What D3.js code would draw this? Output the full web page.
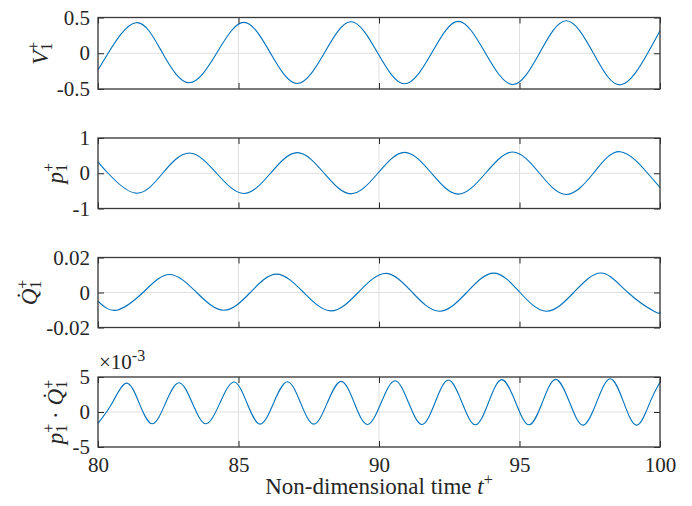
<!DOCTYPE html>
<html>
<head>
<meta charset="utf-8">
<script src="https://cdn.jsdelivr.net/npm/d3@7"></script>
</head>
<body style="margin:0">
<svg id="chart" width="692" height="506" style="font-family:'Liberation Serif','Times New Roman',serif"></svg>
<script>
// values: [time, value]
var v1Data = [[80,-0.235],[80.36,0],[81.35,0.427],[82.30,0],[83.25,-0.413],[84.22,0],[85.19,0.432],
  [86.14,0],[87.09,-0.423],[88.05,0],[89.00,0.441],[89.96,0],[90.91,-0.427],[91.87,0],[92.82,0.446],
  [93.79,0],[94.76,-0.437],[95.71,0],[96.66,0.455],[97.63,0],[98.60,-0.441],[99.56,0],[100,0.315]];

var p1Data = [[80,0.325],[80.36,0],[81.35,-0.565],[82.30,0],[83.25,0.574],[84.22,0],[85.19,-0.574],
  [86.14,0],[87.09,0.584],[88.05,0],[89.00,-0.584],[89.96,0],[90.91,0.593],[91.87,0],[92.82,-0.593],
  [93.79,0],[94.76,0.603],[95.71,0],[96.66,-0.603],[97.63,0],[98.58,0.612],[99.56,0],[100,-0.40]];

var q1Data = [[80,-0.0050],[80.66,-0.0101],[81.60,0],[82.54,0.0103],[83.51,0],[84.48,-0.0101],
  [85.42,0],[86.35,0.0105],[87.32,0],[88.29,-0.0105],[89.26,0],[90.23,0.0109],[91.19,0],
  [92.15,-0.0107],[93.12,0],[94.08,0.0111],[95.02,0],[95.96,-0.0107],[96.93,0],[97.90,0.0111],
  [98.86,0],[99.82,-0.0110],[100,-0.0109]];

// p1 * Q1, in units of 1e-3
var pqData = [[80,-1.62],[80.50,1.25],[81.01,4.13],[81.47,1.23],[81.93,-1.68],[82.40,1.25],[82.88,4.18],
  [83.36,1.25],[83.84,-1.68],[84.34,1.30],[84.84,4.28],[85.30,1.28],[85.77,-1.73],[86.25,1.30],
  [86.74,4.33],[87.21,1.30],[87.68,-1.73],[88.16,1.32],[88.65,4.38],[89.12,1.30],[89.59,-1.78],
  [90.08,1.35],[90.57,4.47],[91.05,1.35],[91.53,-1.78],[92.00,1.40],[92.47,4.57],[92.95,1.40],
  [93.43,-1.83],[93.90,1.40],[94.37,4.62],[94.86,1.40],[95.34,-1.83],[95.82,1.42],[96.29,4.66],
  [96.78,1.40],[97.26,-1.88],[97.75,1.45],[98.23,4.76],[98.70,1.45],[99.18,-1.88],[99.65,1.45],[100,4.30]];

var xTicks = [80, 85, 90, 95, 100];
var yDomains = [[-0.5,0.5],[-1,1],[-0.02,0.02],[-5,5]];
var yTicks = [[-0.5,0,0.5],[-1,0,1],[-0.02,0,0.02],[-5,0,5]];
var yTickLabels = [["-0.5","0","0.5"],["-1","0","1"],["-0.02","0","0.02"],["-5","0","5"]];
var series = [v1Data, p1Data, q1Data, pqData];

var left = 98, right = 660;
var tops = [17.5, 138, 257.5, 377];
var heights = [71.5, 70.5, 70, 70];
var yLabelX = [48, 63, 37, 63];
var tickFont = 21, labelFont = 23;
var FONT = "'Liberation Serif', 'Times New Roman', serif";

var svg = d3.select("#chart");
var x = d3.scaleLinear().domain([80, 100]).range([left, right]);
var line = d3.line().curve(d3.curveNatural);

function serif(sel, size) {
  return sel.style("font-family", FONT).style("font-size", size + "px").attr("fill", "#262626");
}

// sub/superscript pair stacked like LaTeX
function supSub(el, sup, sub) {
  el.append("tspan").attr("dy", -9).style("font-size", "16px").text(sup);
  el.append("tspan").attr("dx", -9).attr("dy", 13).style("font-size", "16px").text(sub);
}

function draw() {
  svg.selectAll("*").remove();

  series.forEach(function(data, i) {
    var top = tops[i], bottom = tops[i] + heights[i];
    var y = d3.scaleLinear().domain(yDomains[i]).range([bottom, top]);
    var g = svg.append("g");

    // grid
    g.selectAll(".gx").data(xTicks).enter().append("line")
      .attr("x1", function(d) { return x(d); }).attr("x2", function(d) { return x(d); })
      .attr("y1", top).attr("y2", bottom)
      .attr("stroke", "#dfdfdf").attr("stroke-width", 1);
    g.selectAll(".gy").data(yTicks[i]).enter().append("line")
      .attr("x1", left).attr("x2", right)
      .attr("y1", function(d) { return y(d); }).attr("y2", function(d) { return y(d); })
      .attr("stroke", "#dfdfdf").attr("stroke-width", 1);

    // curve
    g.append("path")
      .attr("d", line(data.map(function(d) { return [x(d[0]), y(d[1])]; })))
      .attr("fill", "none").attr("stroke", "#0072BD").attr("stroke-width", 1.1);

    // axes, ticks inside, mirrored on all sides
    var bottomAxis = d3.axisBottom(x).tickValues(xTicks).tickSize(-6).tickSizeOuter(0).tickPadding(10)
      .tickFormat(i === 3 ? d3.format("d") : function() { return ""; });
    g.append("g").attr("transform", "translate(0," + bottom + ")").call(bottomAxis);
    g.append("g").attr("transform", "translate(0," + top + ")")
      .call(d3.axisTop(x).tickValues(xTicks).tickSize(-6).tickSizeOuter(0).tickFormat(""));

    var leftAxis = d3.axisLeft(y).tickValues(yTicks[i]).tickSize(-6).tickSizeOuter(0).tickPadding(8)
      .tickFormat(function(d, k) { return yTickLabels[i][k]; });
    g.append("g").attr("transform", "translate(" + left + ",0)").call(leftAxis);
    g.append("g").attr("transform", "translate(" + right + ",0)")
      .call(d3.axisRight(y).tickValues(yTicks[i]).tickSize(-6).tickSizeOuter(0).tickFormat(""));

    g.selectAll(".domain").remove();
    g.selectAll("g").attr("font-family", null).attr("font-size", null);
    g.selectAll(".tick line").attr("stroke", "#262626").attr("stroke-width", 1);
    serif(g.selectAll(".tick text"), tickFont);

    // box
    g.append("rect").attr("x", left).attr("y", top)
      .attr("width", right - left).attr("height", bottom - top)
      .attr("fill", "none").attr("stroke", "#3a3a3a").attr("stroke-width", 1.3);

    // y label
    var lbl = serif(g.append("text"), labelFont)
      .attr("transform", "translate(" + yLabelX[i] + "," + ((top + bottom) / 2) + ") rotate(-90)")
      .attr("text-anchor", "middle");

    if (i === 0) {
      lbl.append("tspan").style("font-style", "italic").text("V");
      supSub(lbl, "+", "1");
    } else if (i === 1) {
      lbl.append("tspan").style("font-style", "italic").text("p");
      supSub(lbl, "+", "1");
    } else if (i === 2) {
      lbl.append("tspan").style("font-style", "italic").text("Q\u0307");
      supSub(lbl, "+", "1");
    } else {
      lbl.append("tspan").style("font-style", "italic").text("p");
      supSub(lbl, "+", "1");
      lbl.append("tspan").attr("dy", -4).text(" \u00B7 ");
      lbl.append("tspan").style("font-style", "italic").text("Q\u0307");
      supSub(lbl, "+", "1");

      // exponent label
      var ex = serif(svg.append("text"), 21).attr("x", left + 1).attr("y", 369);
      ex.append("tspan").text("\u00D710");
      ex.append("tspan").attr("dy", -8).style("font-size", "16px").text("-3");

      // x label
      var xl = serif(svg.append("text"), labelFont).attr("x", (left + right) / 2).attr("y", 494)
        .attr("text-anchor", "middle");
      xl.append("tspan").text("Non-dimensional time ");
      xl.append("tspan").style("font-style", "italic").text("t");
      xl.append("tspan").attr("dy", -9).style("font-size", "16px").text("+");
    }
  });
}

draw();
// redraw once the serif face is surely loaded
if (document.fonts && document.fonts.load) {
  document.fonts.load("21px 'Liberation Serif'").then(draw);
}
</script>
</body>
</html>
